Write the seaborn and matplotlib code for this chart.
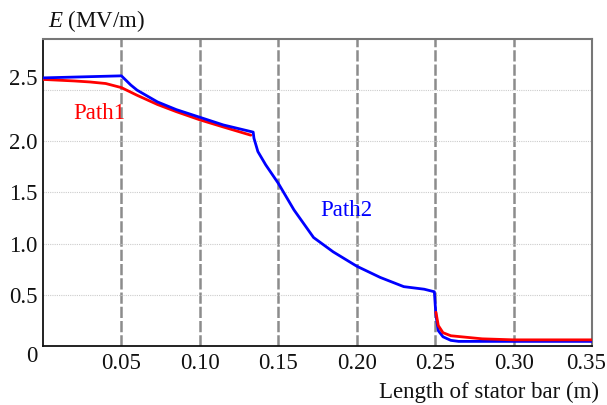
import matplotlib
matplotlib.use("Agg")
import matplotlib.pyplot as plt
import matplotlib.transforms as mtransforms
import seaborn as sns
import pandas as pd

# Path1 (red) - two visible segments
p1a_x = [0.0, 0.02, 0.03, 0.04, 0.05, 0.06, 0.073, 0.085, 0.10, 0.115, 0.1325]
p1a_y = [2.605, 2.59, 2.58, 2.565, 2.525, 2.45, 2.36, 2.29, 2.21, 2.14, 2.06]
p1b_x = [0.2505, 0.252, 0.255, 0.26, 0.27, 0.28, 0.30, 0.35]
p1b_y = [0.33, 0.20, 0.13, 0.10, 0.085, 0.07, 0.06, 0.06]

# Path2 (blue)
p2_x = [0.0, 0.05, 0.056, 0.06, 0.073, 0.085, 0.10, 0.115, 0.134, 0.1345, 0.137,
        0.142, 0.15, 0.16, 0.1725, 0.185, 0.20, 0.215, 0.23, 0.243, 0.2495,
        0.2505, 0.252, 0.255, 0.26, 0.265, 0.30, 0.35]
p2_y = [2.62, 2.64, 2.55, 2.50, 2.385, 2.31, 2.235, 2.16, 2.09, 2.03, 1.90,
        1.77, 1.59, 1.33, 1.06, 0.92, 0.78, 0.67, 0.58, 0.555, 0.53,
        0.30, 0.15, 0.09, 0.055, 0.045, 0.045, 0.045]

x_ticks = [0.05, 0.10, 0.15, 0.20, 0.25, 0.30, 0.35]
x_labels = ["0.05", "0.10", "0.15", "0.20", "0.25", "0.30", "0.35"]
y_ticks = [0.0, 0.5, 1.0, 1.5, 2.0, 2.5]
y_labels = ["0", "0.5", "1.0", "1.5", "2.0", "2.5"]

sns.set_style("white")
plt.rcParams["font.family"] = ["Liberation Serif", "DejaVu Serif"]
plt.rcParams["mathtext.fontset"] = "custom"
plt.rcParams["mathtext.it"] = "Liberation Serif:italic"
plt.rcParams["mathtext.rm"] = "Liberation Serif"

FS = 16.5

fig = plt.figure(figsize=(6.07, 4.05), dpi=100)
ax = fig.add_axes([0.0708, 0.1457, 0.9045, 0.758])

df1a = pd.DataFrame({"x": p1a_x, "y": p1a_y})
df1b = pd.DataFrame({"x": p1b_x, "y": p1b_y})
df2 = pd.DataFrame({"x": p2_x, "y": p2_y})

sns.lineplot(data=df2, x="x", y="y", color="#0000ff", lw=2.0, ax=ax, zorder=3)
sns.lineplot(data=df1a, x="x", y="y", color="#ff0000", lw=2.0, ax=ax, zorder=2.9)
sns.lineplot(data=df1b, x="x", y="y", color="#ff0000", lw=2.0, ax=ax, zorder=4)

ax.set_xlim(0, 0.35)
ax.set_ylim(0, 3.0)
ax.set_xticks(x_ticks)
ax.set_xticklabels(x_labels)
ax.set_yticks(y_ticks)
ax.set_yticklabels(y_labels)
ax.tick_params(axis="x", length=0, labelsize=FS, pad=5, colors="#111111")
ax.tick_params(axis="y", length=0, labelsize=FS, pad=4, colors="#111111")

# last x tick label pulled left so it stays inside the figure
last = ax.get_xticklabels()[-1]
last.set_transform(last.get_transform() +
                   mtransforms.ScaledTranslation(-6 / 100, 0, fig.dpi_scale_trans))
# end y labels: "0" hangs below the axis, "2.5" sits above its line
ylabs = ax.get_yticklabels()
ylabs[0].set_va("top")
ylabs[-1].set_va("bottom")

for xv in x_ticks:
    ax.axvline(xv, color="#8c8c8c", lw=1.8, ls=(0, (4.5, 1.2)), zorder=1)
for yv in y_ticks[1:]:
    ax.axhline(yv, color="#cccccc", lw=0.8, ls=(0, (1, 1)), zorder=1)

for side in ["top", "right"]:
    ax.spines[side].set_color("#777777")
    ax.spines[side].set_linewidth(1.5)
for side in ["left", "bottom"]:
    ax.spines[side].set_color("#111111")
    ax.spines[side].set_linewidth(1.3)

ax.set_xlabel("")
ax.set_ylabel("")

ax.text(0.036, 2.275, "Path1", color="#ff0000", fontsize=FS, ha="center", va="center")
ax.text(0.1937, 1.32, "Path2", color="#0000ff", fontsize=FS, ha="center", va="center")

fig.text(0.079, 0.948, r"$E$ (MV/m)", fontsize=FS, ha="left", va="center", color="#111111")
fig.text(0.986, 0.03, "Length of stator bar (m)", fontsize=FS, ha="right", va="center",
         color="#111111")

fig.savefig("out.png", dpi=100)
